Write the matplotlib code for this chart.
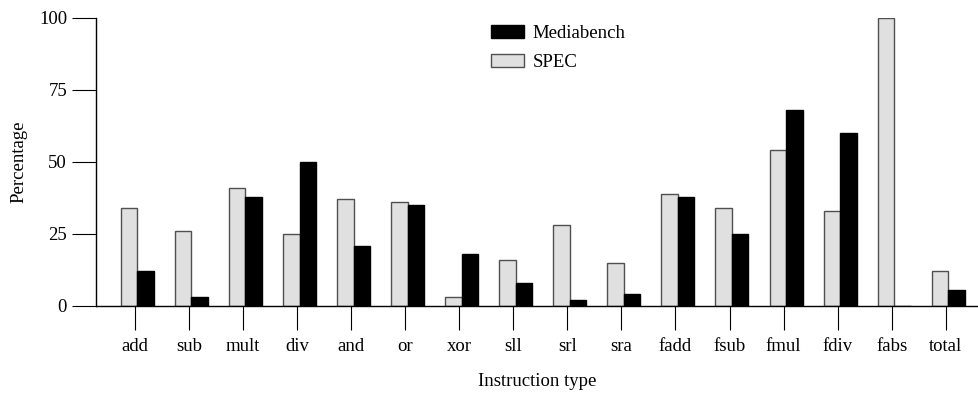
import numpy as np
import matplotlib
matplotlib.use("Agg")
from matplotlib import pyplot as plt

categories = ["add", "sub", "mult", "div", "and", "or", "xor", "sll", "srl", "sra",
              "fadd", "fsub", "fmul", "fdiv", "fabs", "total"]
spec = [34, 26, 41, 25, 37, 36, 3, 16, 28, 15, 39, 34, 54, 33, 100, 12.3]
mediabench = [12, 3, 38, 50, 21, 35, 18, 8, 2, 4, 38, 25, 68, 60, 0, 5.4]
yticks = [0, 25, 50, 75, 100]

plt.rcParams["font.family"] = ["Liberation Serif", "DejaVu Serif"]
plt.rcParams["font.size"] = 13.5

fig = plt.figure(figsize=(9.79, 3.96), dpi=100)
ax = fig.add_axes([96 / 979, 90 / 396, 1 - 96 / 979, 288 / 396])

x = np.arange(len(categories))
w = 0.305
shift = 0.045
ax.bar(x + shift - w / 2, spec, w, color="#e0e0e0", edgecolor="#505050",
       linewidth=1.0, label="SPEC")
ax.bar(x + shift + w / 2, mediabench, w, color="black", edgecolor="black",
       linewidth=1.0, label="Mediabench")

ax.set_xlim(-0.72, 15.615)
ax.set_ylim(0, 100)
ax.set_xticks(x)
ax.set_xticklabels(categories)
ax.set_yticks(yticks)
ax.tick_params(axis="both", direction="out", length=17.3, width=0.8, color="black")
ax.tick_params(axis="y", pad=3.5)
ax.tick_params(axis="x", pad=6)

ax.spines["top"].set_visible(False)
ax.spines["right"].set_visible(False)
ax.spines["left"].set_linewidth(1.0)
ax.spines["bottom"].set_linewidth(1.0)

ax.set_xlabel("Instruction type", labelpad=13)
ax.set_ylabel("Percentage", labelpad=8)

handles, labels = ax.get_legend_handles_labels()
ax.legend(handles[::-1], labels[::-1], loc="upper left",
          bbox_to_anchor=((491 - 96) / 883, 1 - (25 - 18) / 288),
          frameon=False, borderpad=0, borderaxespad=0,
          handlelength=1.76, handleheight=0.64, handletextpad=0.45,
          labelspacing=0.65)

fig.savefig("out.png", dpi=100)
